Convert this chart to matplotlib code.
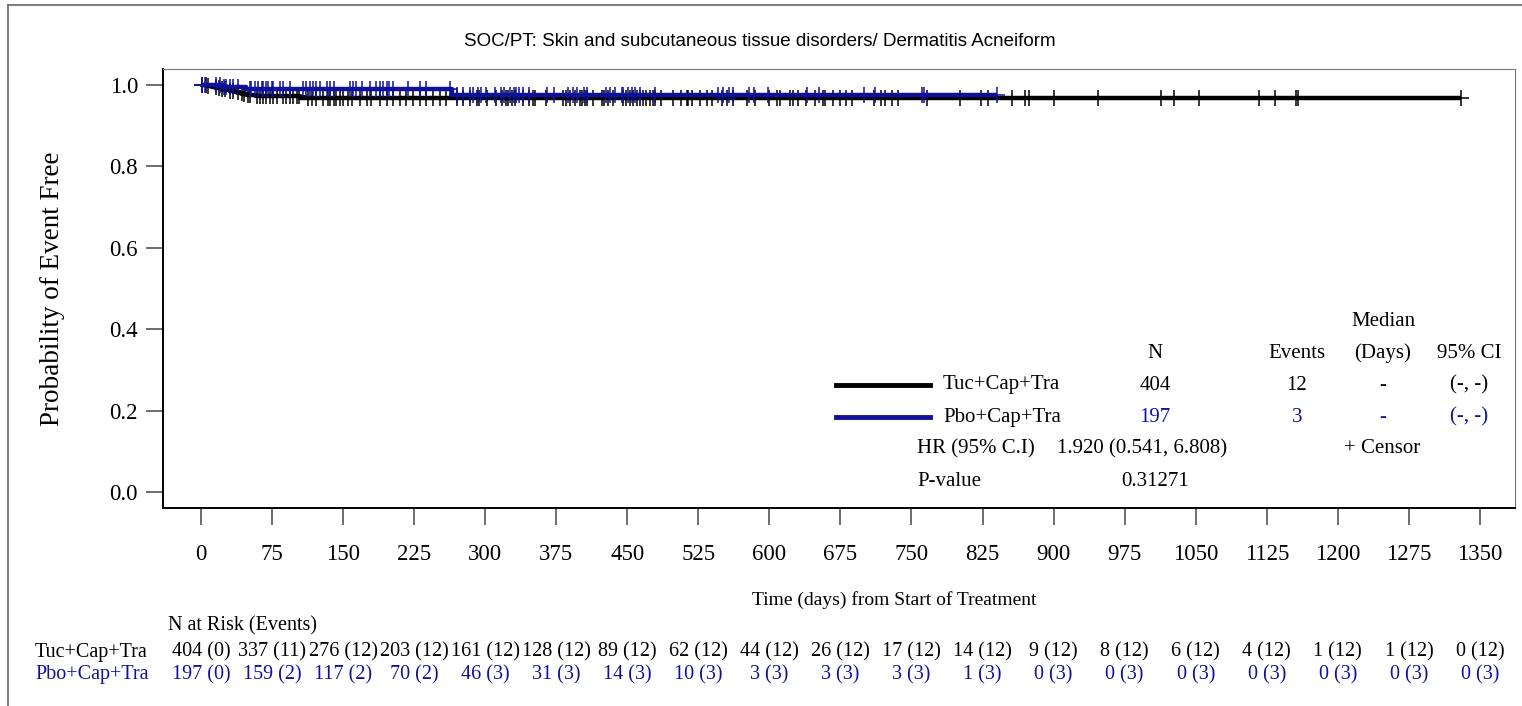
"""
KM curve: Dermatitis Acneiform
"""

import matplotlib
matplotlib.use('Agg')
import matplotlib.pyplot as plt
import matplotlib.transforms as mtransforms
from matplotlib.lines import Line2D
import numpy as np

plt.rcParams['font.family'] = ['Liberation Serif', 'DejaVu Serif']

BLUE = '#10109a'

arms = ['Tuc+Cap+Tra', 'Pbo+Cap+Tra']

# step curves (time, survival)
tuc_t = [0, 6, 12, 17, 22, 27, 31, 36, 40, 44, 49, 58, 105, 1330]
tuc_s = [1.0, 0.9975, 0.995, 0.9926, 0.9901, 0.9876, 0.9851, 0.9826, 0.9801,
         0.9776, 0.9751, 0.9726, 0.969, 0.969]
pbo_t = [0, 22, 48, 265, 840]
pbo_s = [1.0, 0.9949, 0.9898, 0.9757, 0.9757]

# censor times
tuc_cens = [1, 5, 7, 16, 19, 22, 25, 31, 34, 39, 43, 46, 50, 52, 59, 62, 66, 69,
            73, 76, 80, 87, 90, 94, 97, 101, 104, 113, 117, 122, 129, 134, 136,
            140, 143, 147, 150, 155, 159, 168, 175, 180, 189, 196, 203, 210, 217,
            224, 231, 238, 245, 252, 259, 270, 277, 284, 291, 294, 302, 311, 318,
            322, 324, 328, 331, 340, 346, 351, 353, 364, 382, 385, 390, 395, 400,
            402, 405, 407, 414, 423, 425, 430, 435, 446, 449, 453, 456, 460, 463,
            467, 470, 474, 477, 479, 486, 498, 507, 513, 514, 518, 527, 534, 539,
            550, 555, 562, 576, 585, 600, 608, 611, 622, 625, 630, 639, 648, 657,
            659, 667, 675, 681, 687, 710, 718, 722, 729, 736, 766, 801, 823, 831,
            856, 870, 874, 900, 947, 1013, 1027, 1053, 1117, 1134, 1156, 1158, 1330]
pbo_cens = [1, 4, 16, 20, 24, 27, 31, 34, 39, 52, 53, 57, 60, 64, 66, 69, 71, 75,
            76, 83, 87, 94, 108, 111, 115, 118, 122, 126, 133, 136, 140, 157, 161,
            164, 170, 178, 185, 189, 192, 196, 199, 203, 219, 231, 238, 263, 270,
            277, 284, 287, 293, 296, 301, 310, 317, 320, 326, 330, 333, 336, 340,
            346, 365, 373, 387, 393, 397, 404, 407, 428, 432, 437, 444, 446, 451,
            455, 458, 463, 479, 546, 551, 557, 562, 579, 584, 599, 640, 652, 700,
            712, 761, 763, 840]

# number at risk table
risk_days = list(range(0, 1351, 75))
tuc_risk = [404, 337, 276, 203, 161, 128, 89, 62, 44, 26, 17, 14, 9, 8, 6, 4, 1, 1, 0]
tuc_ev = [0, 11, 12, 12, 12, 12, 12, 12, 12, 12, 12, 12, 12, 12, 12, 12, 12, 12, 12]
pbo_risk = [197, 159, 117, 70, 46, 31, 14, 10, 3, 3, 3, 1, 0, 0, 0, 0, 0, 0, 0]
pbo_ev = [0, 2, 2, 2, 3, 3, 3, 3, 3, 3, 3, 3, 3, 3, 3, 3, 3, 3, 3]

# legend table
n_total = [404, 197]
n_events = [12, 3]
medians = ['-', '-']
med_ci = ['(-, -)', '(-, -)']
hr_text = '1.920 (0.541, 6.808)'
p_value = '0.31271'

W, H = 1522, 706
fig = plt.figure(figsize=(W / 100, H / 100), dpi=100)
ax = fig.add_axes([163 / W, 1 - 508 / H, (1515 - 163) / W, (508 - 69) / H])


def surv_at(ts, ss, t):
    i = np.searchsorted(ts, t, side='right') - 1
    return ss[i]


for ts, ss, cens, col in [(tuc_t, tuc_s, tuc_cens, 'black'),
                          (pbo_t, pbo_s, pbo_cens, BLUE)]:
    ax.plot(ts, ss, drawstyle='steps-post', color=col, lw=3.2,
            solid_capstyle='butt')
    cy = [surv_at(ts, ss, c) for c in cens]
    ax.plot(cens, cy, ls='none', marker='+', ms=11, mew=1.1, color=col)

ax.set_xlim(-40, 1387)
ax.set_ylim(-0.039, 1.039)
ax.set_xticks(risk_days)
ax.set_yticks([0, 0.2, 0.4, 0.6, 0.8, 1.0])
ax.set_yticklabels(['0.0', '0.2', '0.4', '0.6', '0.8', '1.0'])
ax.tick_params(axis='both', direction='out', length=12, width=1.2,
               color='#555555', labelsize=16.5, pad=6)
ax.tick_params(axis='x', pad=14)
for s in ['top', 'right']:
    ax.spines[s].set_color('#777777')
for s in ['left', 'bottom']:
    ax.spines[s].set_linewidth(1.4)
ax.set_xlabel('Time (days) from Start of Treatment', fontsize=14, labelpad=18)
ax.xaxis.set_label_coords((894 - 163) / 1352, -0.19)
ax.set_ylabel('Probability of Event Free', fontsize=19.5, labelpad=32)

fig.text(760 / W, 1 - 42 / H, 'SOC/PT: Skin and subcutaneous tissue disorders/ Dermatitis Acneiform',
         family=['Liberation Sans Narrow', 'Liberation Sans'], fontsize=13.5,
         ha='center', va='center')

# figure frame (top and left)
fig.add_artist(Line2D([8 / W, 1], [1 - 5 / H, 1 - 5 / H], color='#666666', lw=1.2))
fig.add_artist(Line2D([8 / W, 8 / W], [0, 1 - 5 / H], color='#666666', lw=1.2))


def fy(y):
    return 1 - y / H


# legend block
fs = 15
cols_x = [1155, 1297, 1383, 1469]
fig.text(1383 / W, fy(321), 'Median', fontsize=fs, ha='center', va='center')
for x, t in zip(cols_x, ['N', 'Events', '(Days)', '95% CI']):
    fig.text(x / W, fy(353), t, fontsize=fs, ha='center', va='center')
row_y = [385, 417]
for i, col in enumerate(['black', BLUE]):
    y = row_y[i]
    fig.add_artist(Line2D([836 / W, 930 / W], [fy(y), fy(y)], color=col, lw=3.5))
    fig.text(943 / W, fy(y), arms[i], fontsize=fs, ha='left', va='center')
    vals = [str(n_total[i]), str(n_events[i]), medians[i], med_ci[i]]
    for x, t in zip(cols_x, vals):
        fig.text(x / W, fy(y), t, fontsize=fs, ha='center', va='center', color=col)
fig.text(917 / W, fy(449), 'HR (95% C.I)', fontsize=fs, ha='left', va='center')
fig.text(1057 / W, fy(449), hr_text, fontsize=fs, ha='left', va='center')
fig.text(1382 / W, fy(449), '+ Censor', fontsize=fs, ha='center', va='center')
fig.text(917 / W, fy(481), 'P-value', fontsize=fs, ha='left', va='center')
fig.text(1155 / W, fy(481), p_value, fontsize=fs, ha='center', va='center')

# at-risk table
trans = mtransforms.blended_transform_factory(ax.transData, fig.transFigure)
fs_r = 14.5
fig.text(168 / W, fy(626), 'N at Risk (Events)', fontsize=fs_r, ha='left', va='center')
for i, (risk, ev, col) in enumerate([(tuc_risk, tuc_ev, 'black'),
                                    (pbo_risk, pbo_ev, BLUE)]):
    y = fy(652 + 23 * i)
    fig.text(35 / W, y, arms[i], fontsize=fs_r, ha='left', va='center', color=col)
    for d, r, e in zip(risk_days, risk, ev):
        ax.text(d, y, f'{r} ({e})', transform=trans, fontsize=fs_r,
                ha='center', va='center', color=col, clip_on=False)

fig.savefig('out.png', dpi=100)
